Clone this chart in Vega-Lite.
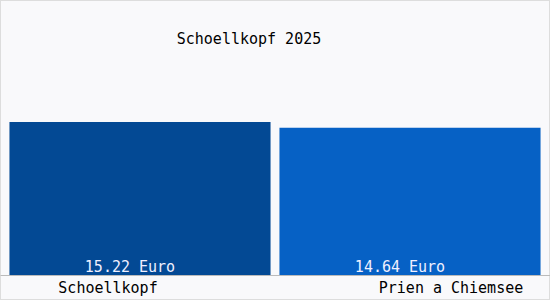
{
  "$schema": "https://vega.github.io/schema/vega-lite/v6.json",
  "width": 550,
  "height": 300,
  "padding": 0,
  "autosize": {"type": "none"},
  "background": "#f9f9fb",
  "title": {
    "text": "Schoellkopf 2025",
    "font": "DejaVu Sans Mono",
    "fontSize": 15,
    "fontWeight": "normal",
    "color": "#000000",
    "anchor": "middle",
    "baseline": "alphabetic",
    "offset": 0,
    "dx": -26,
    "dy": 59
  },
  "data": {
    "values": [
      {"ort": "Schoellkopf", "preis": 15.22, "label": "15.22 Euro"},
      {"ort": "Prien a Chiemsee", "preis": 14.64, "label": "14.64 Euro"}
    ]
  },
  "encoding": {
    "x": {
      "field": "ort",
      "type": "nominal",
      "sort": null,
      "scale": {"paddingInner": 0.033, "paddingOuter": 0.035},
      "axis": {
        "title": null,
        "labelAngle": 0,
        "labelFont": "DejaVu Sans Mono",
        "labelFontSize": 15,
        "labelColor": "#000000",
        "labelPadding": 5,
        "labelOffset": {"expr": "datum.value == 'Schoellkopf' ? -32 : 41"},
        "ticks": false,
        "domainColor": "#bbbbbb",
        "offset": -25
      }
    },
    "y": {
      "field": "preis",
      "type": "quantitative",
      "scale": {"domain": [-2.49, 27.36], "nice": false, "zero": false},
      "axis": null
    }
  },
  "layer": [
    {
      "mark": {"type": "bar", "clip": false},
      "encoding": {
        "color": {
          "field": "ort",
          "type": "nominal",
          "sort": null,
          "scale": {"range": ["#034994", "#0661c5"]},
          "legend": null
        }
      }
    },
    {
      "mark": {
        "type": "text",
        "font": "DejaVu Sans Mono",
        "fontSize": 15,
        "color": "#f0f0ff",
        "baseline": "alphabetic",
        "dy": -3,
        "dx": -10
      },
      "encoding": {
        "y": {"datum": 0, "type": "quantitative"},
        "text": {"field": "label"}
      }
    }
  ],
  "config": {
    "view": {"stroke": "#dddddd", "strokeWidth": 2}
  }
}
